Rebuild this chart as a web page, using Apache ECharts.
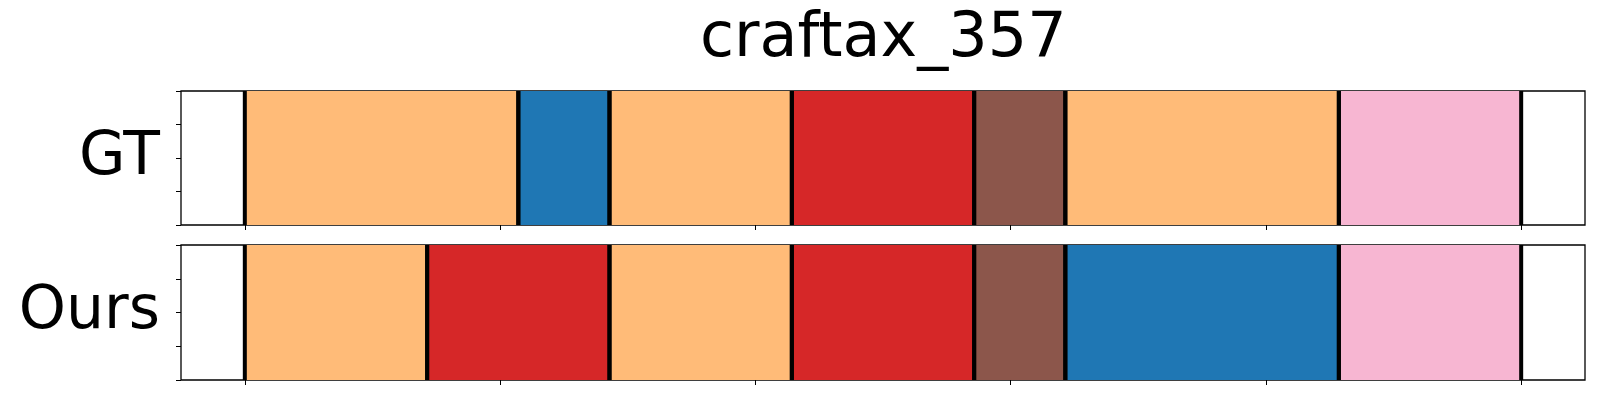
<!DOCTYPE html>
<html>
<head>
<meta charset="utf-8">
<script src="https://cdn.jsdelivr.net/npm/echarts@6/dist/echarts.min.js"></script>
<style>
  html, body { margin: 0; padding: 0; background: #fff; }
  #chart { width: 1600px; height: 400px; }
</style>
</head>
<body>
<div id="chart"></div>
<script>
// ---- data ----
const titleText = 'craftax_357';
const rowNames = ['GT', 'Ours'];
const totalSteps = 14;
// segment boundaries (in steps) and segment classes
const gtBounds = [0, 3, 4, 6, 8, 9, 12, 14];
const gtClasses = ['c1', 'c0', 'c1', 'c3', 'c5', 'c1', 'c6'];
const oursBounds = [0, 2, 4, 6, 8, 9, 12, 14];
const oursClasses = ['c1', 'c3', 'c1', 'c3', 'c5', 'c0', 'c6'];
const xTickValues = [0, 2.8, 5.6, 8.4, 11.2, 14];
const yTickValues = [0, 0.25, 0.5, 0.75, 1];
const classColors = {
  c0: '#1f77b4', c1: '#ffbb78', c3: '#d62728', c5: '#8c564b', c6: '#f7b6d2'
};

function toSegments(bounds, classes) {
  const out = [];
  for (let i = 0; i < classes.length; i++) {
    out.push([bounds[i], bounds[i + 1], classes[i]]);
  }
  return out;
}

const FONT = 'DejaVu Sans';
const chart = echarts.init(document.getElementById('chart'), null, { renderer: 'canvas' });

const margin = totalSteps * 0.05;
const grids = [
  { left: 181, right: 15, top: 91, height: 134, show: true, borderColor: '#000', borderWidth: 1.3, backgroundColor: '#fff' },
  { left: 181, right: 15, top: 245, height: 135, show: true, borderColor: '#000', borderWidth: 1.3, backgroundColor: '#fff' }
];

const xAxes = grids.map((g, i) => ({
  type: 'value', gridIndex: i, min: -margin, max: totalSteps + margin,
  axisLine: { show: false, onZero: false },
  axisTick: { show: true, inside: false, length: 5, customValues: xTickValues, lineStyle: { color: '#000', width: 1 } },
  axisLabel: { show: false },
  splitLine: { show: false }
}));

const yAxes = grids.map((g, i) => ({
  type: 'value', gridIndex: i, min: 0, max: 1, interval: 0.25,
  name: rowNames[i], nameLocation: 'middle', nameRotate: 0, nameGap: 21,
  nameTextStyle: { fontFamily: FONT, fontSize: 60, color: '#000', align: 'right', verticalAlign: 'middle', padding: [0, 0, 16, 0] },
  axisLine: { show: false, onZero: false },
  axisTick: { show: true, inside: false, length: 5, customValues: yTickValues, lineStyle: { color: '#000', width: 1 } },
  axisLabel: { show: false },
  splitLine: { show: false }
}));

function renderSeg(params, api) {
  const s = api.value(0), e = api.value(1);
  const color = api.value(3);
  const p0 = api.coord([s, 1]);
  const p1 = api.coord([e, 0]);
  return {
    type: 'group',
    children: [
      { type: 'rect', shape: { x: p0[0], y: p0[1], width: p1[0] - p0[0], height: p1[1] - p0[1] },
        style: { fill: color } },
      { type: 'line', shape: { x1: p0[0], y1: p0[1], x2: p0[0], y2: p1[1] },
        style: { stroke: '#000', lineWidth: 4 }, z2: 10 },
      { type: 'line', shape: { x1: p1[0], y1: p0[1], x2: p1[0], y2: p1[1] },
        style: { stroke: '#000', lineWidth: 4 }, z2: 10 }
    ]
  };
}

function seriesData(bounds, classes) {
  return toSegments(bounds, classes).map(s => [s[0], s[1], s[2], classColors[s[2]]]);
}

const option = {
  backgroundColor: '#fff',
  animation: false,
  title: {
    text: titleText, left: 695, top: 4,
    textStyle: { fontFamily: FONT, fontSize: 62, fontWeight: 'normal', color: '#000' }
  },
  grid: grids,
  xAxis: xAxes,
  yAxis: yAxes,
  series: [
    { type: 'custom', xAxisIndex: 0, yAxisIndex: 0, renderItem: renderSeg,
      encode: { x: [0, 1] }, data: seriesData(gtBounds, gtClasses), clip: false },
    { type: 'custom', xAxisIndex: 1, yAxisIndex: 1, renderItem: renderSeg,
      encode: { x: [0, 1] }, data: seriesData(oursBounds, oursClasses), clip: false }
  ]
};
chart.setOption(option);
</script>
</body>
</html>
